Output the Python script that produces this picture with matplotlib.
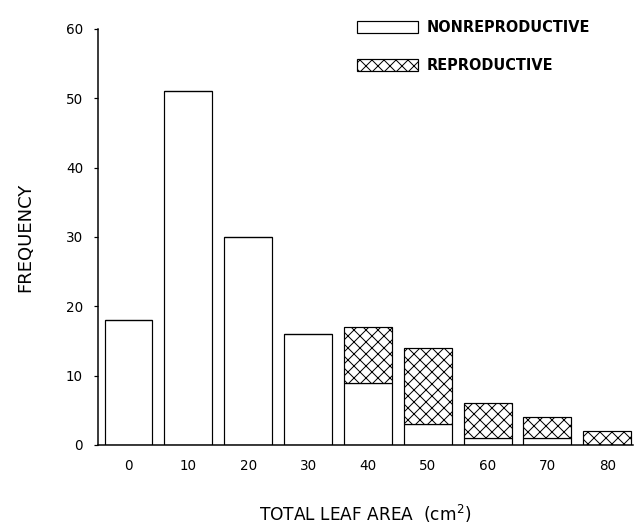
import matplotlib.pyplot as plt
from matplotlib.patches import Patch

# leaf area classes (cm^2) and counts
leaf_area = [0, 10, 20, 30, 40, 50, 60, 70, 80]
nonreproductive = [18, 51, 30, 16, 9, 3, 1, 1, 0]
reproductive = [0, 0, 0, 0, 8, 11, 5, 3, 2]
y_ticks = [0, 10, 20, 30, 40, 50, 60]

plt.rcParams['font.family'] = 'DejaVu Sans'
plt.rcParams['hatch.color'] = 'black'
plt.rcParams['hatch.linewidth'] = 1.0

# dpi 72 so that one point is one pixel
fig = plt.figure(figsize=(635 / 72, 528 / 72), dpi=72)
ax = fig.add_axes([98 / 635, 83 / 528, 535 / 635, 416 / 528])

ax.bar(leaf_area, nonreproductive, width=8, color='white',
       edgecolor='black', linewidth=1.2)
ax.bar(leaf_area, reproductive, width=8, bottom=nonreproductive,
       color='white', edgecolor='black', linewidth=1.2, hatch='xx')

ax.set_xlim(-5.1, 84.3)
ax.set_ylim(0, 60)
ax.set_xticks(leaf_area)
ax.set_yticks(y_ticks)
ax.tick_params(axis='x', length=0, pad=14, labelsize=13.5)
ax.tick_params(axis='y', length=4, width=1.2, pad=11, labelsize=13.5)

for side in ['top', 'right']:
    ax.spines[side].set_visible(False)
for side in ['left', 'bottom']:
    ax.spines[side].set_linewidth(1.5)

ax.set_ylabel('FREQUENCY', fontsize=18, labelpad=32)
ax.set_xlabel('TOTAL LEAF AREA  (cm$^{\\mathregular{2}}$)', fontsize=17, labelpad=30)

handles = [Patch(facecolor='white', edgecolor='black', linewidth=1.2),
           Patch(facecolor='white', edgecolor='black', linewidth=1.2, hatch='xx')]
ax.legend(handles, ['NONREPRODUCTIVE', 'REPRODUCTIVE'],
          loc='upper left', bbox_to_anchor=(357 / 635, 1 - 20 / 528),
          bbox_transform=fig.transFigure, frameon=False,
          borderpad=0, borderaxespad=0, handlelength=4.2, handleheight=0.95,
          handletextpad=0.6, labelspacing=1.6,
          prop={'size': 14.5, 'weight': 'bold'})

fig.savefig('out.png', dpi=72)
